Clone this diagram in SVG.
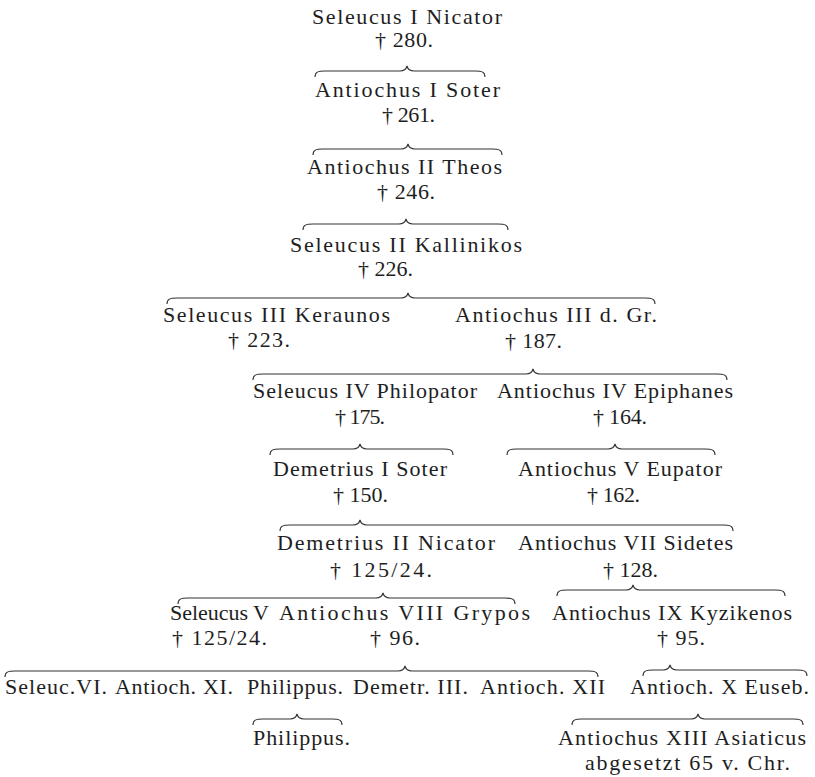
<svg xmlns="http://www.w3.org/2000/svg" width="815" height="777" viewBox="0 0 815 777">
<style>
text{font-family:"Liberation Serif","DejaVu Serif",serif;font-size:22px;fill:#1e1e1e}
.br{fill:none;stroke:#333;stroke-width:1.1}
</style>
<rect width="815" height="777" fill="#fff"/>
<g id="connectors">
<path class="br" d="M315 77 C315 72 318 71 325 71 L400 71 C404 71 406 70 407 66 C408 70 410 71 414 71 L475 71 C482 71 485 72 485 77"/>
<path class="br" d="M313 155 C313 150 316 149 323 149 L401 149 C405 149 407 148 408 144 C409 148 411 149 415 149 L492 149 C499 149 502 150 502 155"/>
<path class="br" d="M303 230 C303 225 306 224 313 224 L399 224 C403 224 405 223 406 219 C407 223 409 224 413 224 L498 224 C505 224 508 225 508 230"/>
<path class="br" d="M167 304 C167 299 170 298 177 298 L401 298 C405 298 407 297 408 293 C409 297 411 298 415 298 L645 298 C652 298 655 299 655 304"/>
<path class="br" d="M253 380 C253 375 256 374 263 374 L526 374 C530 374 532 373 533 369 C534 373 536 374 540 374 L717 374 C724 374 727 375 727 380"/>
<path class="br" d="M270 455 C270 450 273 449 280 449 L353 449 C357 449 359 448 360 444 C361 448 363 449 367 449 L443 449 C450 449 453 450 453 455"/>
<path class="br" d="M507 455 C507 450 510 449 517 449 L608 449 C612 449 614 448 615 444 C616 448 618 449 622 449 L705 449 C712 449 715 450 715 455"/>
<path class="br" d="M280 531 C280 526 283 525 290 525 L353 525 C357 525 359 524 360 520 C361 524 363 525 367 525 L723 525 C730 525 733 526 733 531"/>
<path class="br" d="M178 604 C178 599 181 598 188 598 L376 598 C380 598 382 597 383 593 C384 597 386 598 390 598 L505 598 C512 598 515 599 515 604"/>
<path class="br" d="M557 596 C557 591 560 590 567 590 L626 590 C630 590 632 589 633 585 C634 589 636 590 640 590 L775 590 C782 590 785 591 785 596"/>
<path class="br" d="M5 677 C5 672 8 671 15 671 L398 671 C402 671 404 670 405 666 C406 670 408 671 412 671 L588 671 C595 671 598 672 598 677"/>
<path class="br" d="M643 676 C643 671 646 670 653 670 L663 670 C667 670 669 669 670 665 C671 669 673 670 677 670 L797 670 C804 670 807 671 807 676"/>
<path class="br" d="M253 725 C253 720 256 719 263 719 L290 719 C294 719 296 718 297 714 C298 718 300 719 304 719 L332 719 C339 719 342 720 342 725"/>
<path class="br" d="M572 725 C572 720 575 719 582 719 L691 719 C695 719 697 718 698 714 C699 718 701 719 705 719 L793 719 C800 719 803 720 803 725"/>
</g>
<g id="seleucus1"><text x="312" y="24" textLength="190" lengthAdjust="spacing">Seleucus I Nicator</text><text x="375" y="47" textLength="58" lengthAdjust="spacing">† 280.</text></g>
<g id="antiochus1"><text x="315" y="97" textLength="185" lengthAdjust="spacing">Antiochus I Soter</text><text x="382" y="122" textLength="53" lengthAdjust="spacing">† 261.</text></g>
<g id="antiochus2"><text x="307" y="174" textLength="195" lengthAdjust="spacing">Antiochus II Theos</text><text x="377" y="199" textLength="58" lengthAdjust="spacing">† 246.</text></g>
<g id="seleucus2"><text x="290" y="252" textLength="232" lengthAdjust="spacing">Seleucus II Kallinikos</text><text x="358" y="276" textLength="55" lengthAdjust="spacing">† 226.</text></g>
<g id="seleucus3"><text x="163" y="322" textLength="227" lengthAdjust="spacing">Seleucus III Keraunos</text><text x="228" y="347" textLength="62" lengthAdjust="spacing">† 223.</text></g>
<g id="antiochus3"><text x="455" y="322" textLength="202" lengthAdjust="spacing">Antiochus III d. Gr.</text><text x="505" y="348" textLength="57" lengthAdjust="spacing">† 187.</text></g>
<g id="seleucus4"><text x="253" y="398" textLength="224" lengthAdjust="spacing">Seleucus IV Philopator</text><text x="335" y="424" textLength="50" lengthAdjust="spacing">† 175.</text></g>
<g id="antiochus4"><text x="497" y="398" textLength="236" lengthAdjust="spacing">Antiochus IV Epiphanes</text><text x="593" y="424" textLength="54" lengthAdjust="spacing">† 164.</text></g>
<g id="demetrius1"><text x="273" y="476" textLength="174" lengthAdjust="spacing">Demetrius I Soter</text><text x="333" y="502" textLength="55" lengthAdjust="spacing">† 150.</text></g>
<g id="antiochus5"><text x="518" y="476" textLength="204" lengthAdjust="spacing">Antiochus V Eupator</text><text x="587" y="502" textLength="53" lengthAdjust="spacing">† 162.</text></g>
<g id="demetrius2"><text x="277" y="550" textLength="218" lengthAdjust="spacing">Demetrius II Nicator</text><text x="330" y="577" textLength="102" lengthAdjust="spacing">† 125/24.</text></g>
<g id="antiochus7"><text x="518" y="550" textLength="215" lengthAdjust="spacing">Antiochus VII Sidetes</text><text x="603" y="577" textLength="55" lengthAdjust="spacing">† 128.</text></g>
<g id="seleucus5"><text x="170" y="620" textLength="99" lengthAdjust="spacing">Seleucus V</text><text x="172" y="645" textLength="95" lengthAdjust="spacing">† 125/24.</text></g>
<g id="antiochus8"><text x="279" y="620" textLength="251" lengthAdjust="spacing">Antiochus VIII Grypos</text><text x="370" y="645" textLength="50" lengthAdjust="spacing">† 96.</text></g>
<g id="antiochus9"><text x="552" y="620" textLength="240" lengthAdjust="spacing">Antiochus IX Kyzikenos</text><text x="657" y="645" textLength="48" lengthAdjust="spacing">† 95.</text></g>
<g id="seleucus6"><text x="5" y="694" textLength="102" lengthAdjust="spacing">Seleuc.VI.</text></g>
<g id="antiochus11"><text x="115" y="694" textLength="118" lengthAdjust="spacing">Antioch. XI.</text></g>
<g id="philippus1"><text x="247" y="694" textLength="96" lengthAdjust="spacing">Philippus.</text></g>
<g id="demetrius3"><text x="353" y="694" textLength="115" lengthAdjust="spacing">Demetr. III.</text></g>
<g id="antiochus12"><text x="480" y="694" textLength="125" lengthAdjust="spacing">Antioch. XII</text></g>
<g id="antiochus10"><text x="630" y="694" textLength="179" lengthAdjust="spacing">Antioch. X Euseb.</text></g>
<g id="philippus2"><text x="253" y="745" textLength="97" lengthAdjust="spacing">Philippus.</text></g>
<g id="antiochus13"><text x="558" y="745" textLength="248" lengthAdjust="spacing">Antiochus XIII Asiaticus</text><text x="585" y="770" textLength="205" lengthAdjust="spacing">abgesetzt 65 v. Chr.</text></g>
</svg>
